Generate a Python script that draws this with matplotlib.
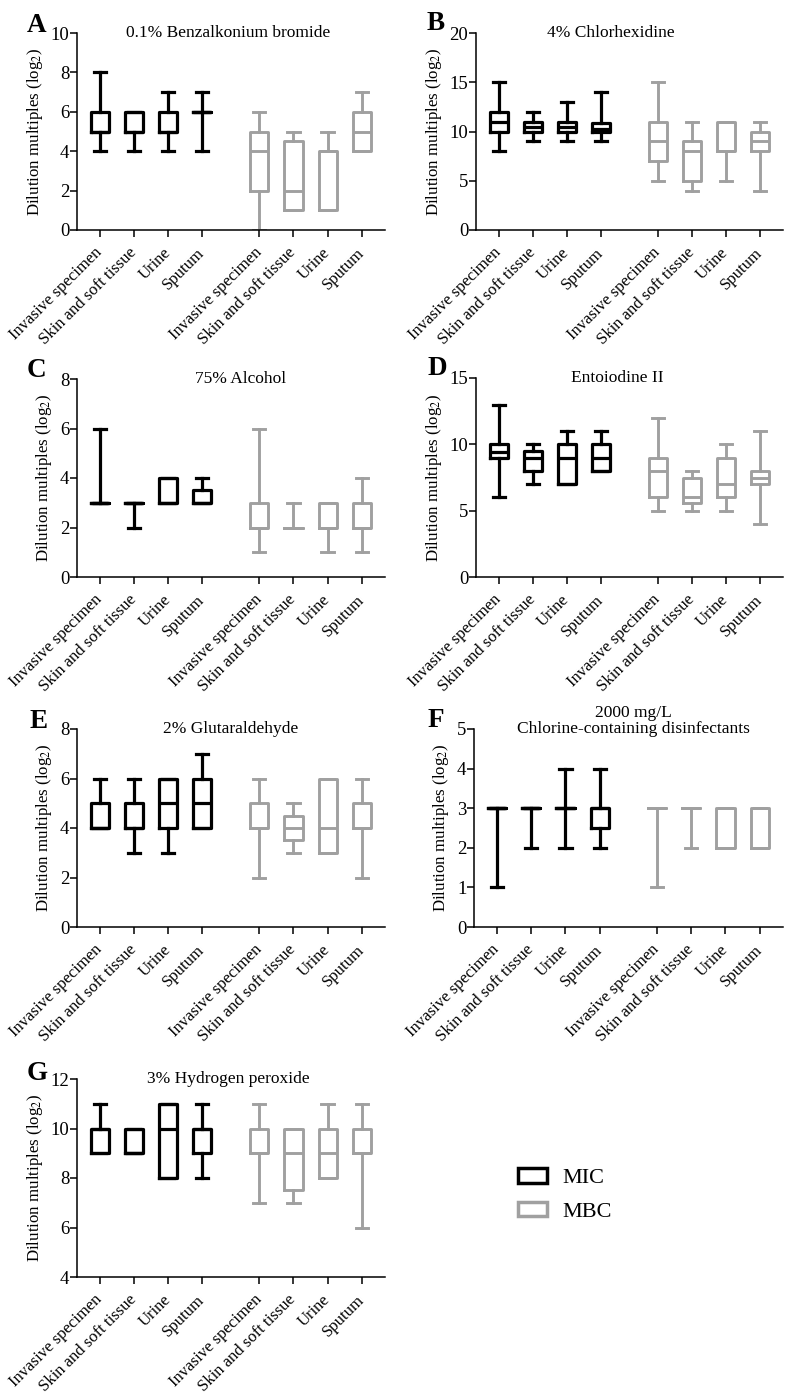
import matplotlib
matplotlib.use("Agg")
import matplotlib.pyplot as plt
from matplotlib.patches import Patch

plt.rcParams['font.family'] = ['Liberation Serif', 'DejaVu Serif']
plt.rcParams['mathtext.fontset'] = 'stix'

categories = ["Invasive specimen", "Skin and soft tissue", "Urine", "Sputum"]
groups = ["MIC", "MBC"]

# (whisker low, q1, median, q3, whisker high); first 4 = MIC, last 4 = MBC
A_stats = [(4, 5, 5, 6, 8), (4, 5, 5, 6, 6), (4, 5, 5, 6, 7), (4, 6, 6, 6, 7),
           (0, 2, 4, 5, 6), (1, 1, 2, 4.5, 5), (1, 1, 4, 4, 5), (4, 4, 5, 6, 7)]
B_stats = [(8, 10, 11, 12, 15), (9, 10, 10.5, 11, 12), (9, 10, 10.5, 11, 13), (9, 9.9, 10.3, 10.9, 14),
           (5, 7, 9, 11, 15), (4, 5, 8, 9, 11), (5, 8, 8, 11, 11), (4, 8, 9, 10, 11)]
C_stats = [(3, 3, 3, 3, 6), (2, 3, 3, 3, 3), (3, 3, 3, 4, 4), (3, 3, 3, 3.5, 4),
           (1, 2, 2, 3, 6), (2, 2, 2, 2, 3), (1, 2, 2, 3, 3), (1, 2, 2, 3, 4)]
D_stats = [(6, 9, 9.4, 10, 13), (7, 8, 9, 9.5, 10), (7, 7, 9, 10, 11), (8, 8, 9, 10, 11),
           (5, 6, 8, 9, 12), (5, 5.6, 6, 7.5, 8), (5, 6, 7, 9, 10), (4, 7, 7.5, 8, 11)]
E_stats = [(4, 4, 4, 5, 6), (3, 4, 4, 5, 6), (3, 4, 5, 6, 6), (4, 4, 5, 6, 7),
           (2, 4, 4, 5, 6), (3, 3.5, 4, 4.5, 5), (3, 3, 4, 6, 6), (2, 4, 4, 5, 6)]
F_stats = [(1, 3, 3, 3, 3), (2, 3, 3, 3, 3), (2, 3, 3, 3, 4), (2, 2.5, 3, 3, 4),
           (1, 3, 3, 3, 3), (2, 3, 3, 3, 3), (2, 2, 2, 3, 3), (2, 2, 2, 3, 3)]
G_stats = [(9, 9, 10, 10, 11), (9, 9, 9, 10, 10), (8, 8, 10, 11, 11), (8, 9, 10, 10, 11),
           (7, 9, 9, 10, 11), (7, 7.5, 9, 10, 10), (8, 8, 9, 10, 11), (6, 9, 9, 10, 11)]

titles = ["0.1% Benzalkonium bromide", "4% Chlorhexidine", "75% Alcohol", "Entoiodine II",
          "2% Glutaraldehyde", "2000 mg/L\nChlorine-containing disinfectants", "3% Hydrogen peroxide"]
letters = ["A", "B", "C", "D", "E", "F", "G"]
ylims = [(0, 10), (0, 20), (0, 8), (0, 15), (0, 8), (0, 5), (4, 12)]
ysteps = [2, 5, 2, 5, 2, 1, 2]

all_stats = [A_stats, B_stats, C_stats, D_stats, E_stats, F_stats, G_stats]

W, H = 790, 1396
# axes rectangles in pixels: left, top, right, bottom
rects = [(77, 33, 385, 230), (476, 33, 783, 230),
         (77, 379, 385, 577), (476, 378, 783, 577),
         (77, 729, 385, 927), (474, 729, 783, 927),
         (77, 1079, 385, 1277)]
title_x = [0.49, 0.44, 0.53, 0.46, 0.50, 0.515, 0.49]
letter_pos = [(27, 32), (427, 30), (27, 377), (427, 375), (30, 728), (428, 727), (27, 1080)]

positions = [1, 2, 3, 4, 5.67, 6.67, 7.67, 8.67]
colors = ["black"] * 4 + ["#a0a0a0"] * 4
lws = [2.3] * 4 + [2.1] * 4

fig = plt.figure(figsize=(W / 100, H / 100), dpi=100)

for i, st in enumerate(all_stats):
    l, t, r, b = rects[i]
    ax = fig.add_axes([l / W, 1 - b / H, (r - l) / W, (b - t) / H])
    for j, s in enumerate(st):
        d = dict(whislo=s[0], q1=s[1], med=s[2], q3=s[3], whishi=s[4], fliers=[])
        c = colors[j]
        lw = lws[j]
        ax.bxp([d], positions=[positions[j]], widths=0.53, showfliers=False,
               capwidths=0.36,
               boxprops=dict(color=c, linewidth=lw),
               whiskerprops=dict(color=c, linewidth=lw),
               capprops=dict(color=c, linewidth=lw),
               medianprops=dict(color=c, linewidth=lw),
               manage_ticks=False)
    ax.set_xlim(0.33, 9.35)
    y0, y1 = ylims[i]
    ax.set_ylim(y0, y1)
    ticks = list(range(y0, y1 + 1, ysteps[i]))
    ax.set_yticks(ticks)
    ax.set_xticks(positions)
    ax.set_xticklabels(categories + categories, rotation=45, ha='right', va='center',
                       rotation_mode='anchor', fontsize=12)
    ax.tick_params(axis='y', labelsize=13.5, length=5, width=1.1, direction='out', pad=0.5)
    ax.tick_params(axis='x', length=5, width=1.1, direction='out', pad=9.5)
    for sp in ['top', 'right']:
        ax.spines[sp].set_visible(False)
    for sp in ['left', 'bottom']:
        ax.spines[sp].set_linewidth(1.1)
    ax.set_ylabel("Dilution multiples (log$_2$)", fontsize=12.2, labelpad=4)
    if "\n" in titles[i]:
        ax.text(title_x[i], 1.04, titles[i], transform=ax.transAxes, ha='center',
                va='center', fontsize=12.5, linespacing=1.0)
    else:
        ax.text(title_x[i], 1.0, titles[i], transform=ax.transAxes, ha='center',
                va='center', fontsize=12.5)
    lx, ly = letter_pos[i]
    fig.text(lx / W, 1 - ly / H, letters[i], fontsize=19.5, fontweight='bold',
             ha='left', va='baseline')

handles = [Patch(facecolor='white', edgecolor='black', linewidth=2.5),
           Patch(facecolor='white', edgecolor='#a0a0a0', linewidth=2.5)]
fig.legend(handles, groups, loc='center left', bbox_to_anchor=(498 / W, 1 - 1195 / H),
           frameon=False, fontsize=16, handlelength=1.3, handleheight=0.6,
           handletextpad=0.7, labelspacing=0.6)

fig.savefig("out.png", dpi=100)
